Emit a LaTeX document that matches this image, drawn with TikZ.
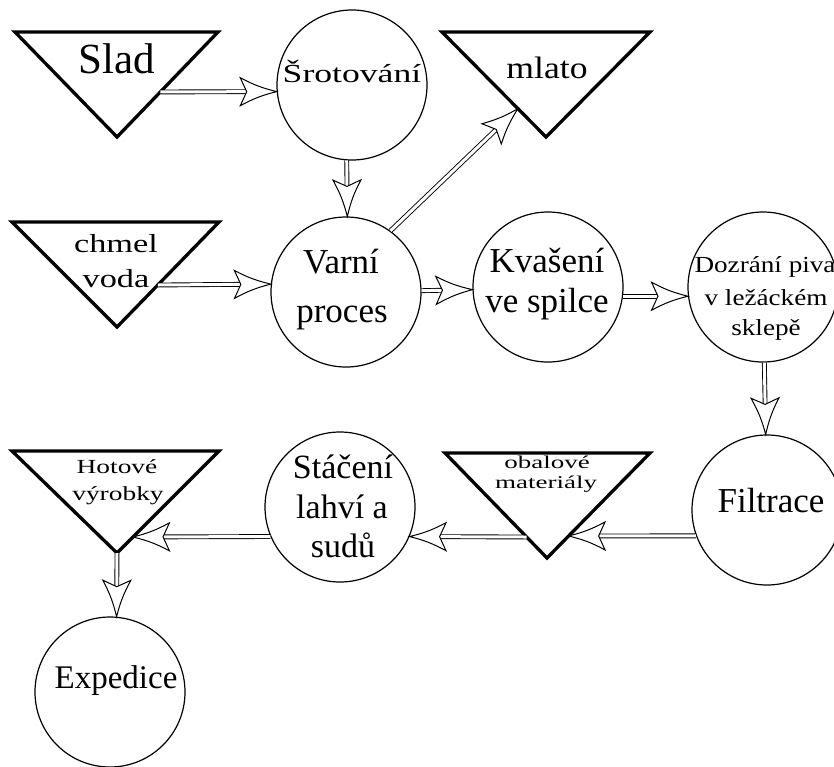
\documentclass[tikz,border=0pt]{standalone}
\usepackage{fontspec}
\usepackage{graphicx}
\setmainfont{Liberation Serif}
\usetikzlibrary{calc}

% horizontally widened text
\newcommand\sx[2]{\scalebox{#1}[1]{#2}}

% double-line connector with a hollow arrow head
\newcommand\flowarrow[2]{%
  \draw[flowline] (#1) -- ($(#2)!27pt!(#1)$);
  \draw[flowhead] (#2) to[bend right=7] ($(#2)!39pt!21:(#1)$) -- ($(#2)!30pt!(#1)$)
    -- ($(#2)!39pt!-21:(#1)$) to[bend right=7] cycle;
}

\tikzset{
  stage/.style={circle, draw, line width=1.2pt, minimum size=150pt, inner sep=0pt},
  tri/.style={draw, line width=3.3pt, line join=miter},
  lbl/.style={font=\fontsize{#1}{#1}\selectfont, inner sep=0pt, anchor=base},
  flowline/.style={line width=0.9pt, double=white, double distance=3pt},
  flowhead/.style={line width=1pt, fill=white, line join=miter},
}

\begin{document}
\begin{tikzpicture}[x=1pt, y=-1pt]
\useasboundingbox[fill=white] (0,0) rectangle (834,766);

% process stages
\node[stage] (srot)  at (352,85)  {};
\node[stage] (varni) at (346,292) {};
\node[stage] (kvas)  at (548,287) {};
\node[stage] (dozr)  at (763,287) {};
\node[stage] (filtr) at (767,510) {};
\node[stage] (stac)  at (340,507) {};
\node[stage] (exped) at (110,692) {};

% material triangles
\coordinate (slL) at (15,32);   \coordinate (slR) at (218,32);  \coordinate (slA) at (117,137);
\coordinate (mlL) at (442,32);  \coordinate (mlR) at (650,32);  \coordinate (mlA) at (546,137);
\coordinate (chL) at (12,222);  \coordinate (chR) at (219,222); \coordinate (chA) at (117,327);
\coordinate (hoL) at (12,451);  \coordinate (hoR) at (219,451); \coordinate (hoA) at (117,553);
\coordinate (obL) at (445,453); \coordinate (obR) at (650,453); \coordinate (obA) at (547,558);

\draw[tri] (slL) -- (slR) -- (slA) -- cycle;
\draw[tri] (mlL) -- (mlR) -- (mlA) -- cycle;
\draw[tri] (chL) -- (chR) -- (chA) -- cycle;
\draw[tri] (hoL) -- (hoR) -- (hoA) -- cycle;
\draw[tri] (obL) -- (obR) -- (obA) -- cycle;

% connector ends on triangle edges
\coordinate (slOut) at ($(slR)!0.571!(slA)$);
\coordinate (mlIn)  at ($(mlL)!0.73!(mlA)$);
\coordinate (chOut) at ($(chR)!0.6!(chA)$);
\coordinate (obIn)  at ($(obR)!0.79!(obA)$);
\coordinate (obOut) at ($(obL)!0.8!(obA)$);
\coordinate (hoIn)  at ($(hoR)!0.843!(hoA)$);

% connectors
\flowarrow{slOut}{srot.185.4}
\flowarrow{srot.266}{varni.89}
\flowarrow{varni.54}{mlIn}
\flowarrow{chOut}{varni.174.6}
\flowarrow{varni.1.5}{kvas.182.3}
\flowarrow{kvas.-7.7}{dozr.187.7}
\flowarrow{dozr.271.5}{filtr.91.5}
\flowarrow{filtr.200.3}{obIn}
\flowarrow{obOut}{stac.-23.6}
\flowarrow{stac.203.6}{hoIn}
\flowarrow{hoA}{exped.85}

% labels
\node[lbl=43] (tSlad) at (117,73) {Slad};
\node[lbl=31] (tMlato) at (547,78) {\sx{1.15}{mlato}};
\node[lbl=26] (tSrot) at (352,82) {\sx{1.37}{Šrotování}};
\node[lbl=26] (tChmel) at (116,252) {\sx{1.32}{chmel}};
\node[lbl=26] (tVoda) at (116,287) {\sx{1.32}{voda}};
\node[lbl=35] (tVarni1) at (341,273) {Varní};
\node[lbl=35] (tVarni2) at (342,322) {proces};
\node[lbl=35] (tKvas1) at (547,272) {Kvašení};
\node[lbl=35] (tKvas2) at (547,312) {ve spilce};
\node[lbl=23] (tDozr1) at (765,272) {\sx{1.18}{Dozrání piva}};
\node[lbl=23] (tDozr2) at (766,305) {\sx{1.18}{v ležáckém}};
\node[lbl=23] (tDozr3) at (766,335) {\sx{1.18}{sklepě}};
\node[lbl=35] (tFiltr) at (771,512) {Filtrace};
\node[lbl=18] (tObal1) at (547,468) {\sx{1.5}{obalové}};
\node[lbl=18] (tObal2) at (546,488) {\sx{1.5}{materiály}};
\node[lbl=34] (tStac1) at (343,478) {Stáčení};
\node[lbl=34] (tStac2) at (342,518) {lahví a};
\node[lbl=34] (tStac3) at (343,557) {sudů};
\node[lbl=20] (tHot1) at (117,473) {\sx{1.37}{Hotové}};
\node[lbl=20] (tHot2) at (118,500) {\sx{1.37}{výrobky}};
\node[lbl=33] (tExped) at (116,688) {Expedice};
\end{tikzpicture}
\end{document}
